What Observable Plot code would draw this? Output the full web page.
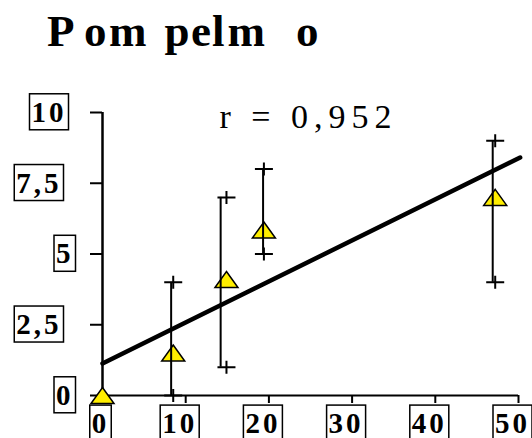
<!DOCTYPE html>
<html><head><meta charset="utf-8">
<script src="https://cdn.jsdelivr.net/npm/d3@7"></script>
<script src="https://cdn.jsdelivr.net/npm/@observablehq/plot@0.6"></script>
<style>
body{margin:0;background:#fff;}
#wrap{position:relative;width:532px;height:438px;overflow:hidden;background:#fff;}
#title{position:absolute;left:0;top:9px;width:532px;height:50px;font:bold 45px/45px "Liberation Serif","Times New Roman",serif;white-space:nowrap;color:#000;}
#title span{position:absolute;top:0;}
#chart{position:absolute;left:0;top:70px;}
</style></head><body>
<div id="wrap"><div id="title"></div><div id="chart"></div></div>
<script>
const titleText = "Pompelmo";
const xTicks = [0, 10, 20, 30, 40, 50];
const xTickLabels = ["0", "10", "20", "30", "40", "50"];
const yTicks = [0, 2.5, 5, 7.5, 10];
const yTickLabels = ["0", "2,5", "5", "7,5", "10"];
const xVals = [0, 8.5, 14.9, 19.4, 47.2];
const yVals = [0, 1.5, 4.1, 5.85, 7.0];
const errX = [null, 8.25, 14.2, 19.3, 46.9];
const yLow = [null, 0, 1.0, 5.0, 4.0];
const yHigh = [null, 4.0, 7.0, 8.0, 9.0];
const fitX = [0, 50.2];
const fitY = [1.13, 8.41];
const rLabel = "r = 0,952";
const rPos = [14.05, 9.85];

// title letters placed with the irregular spacing of the reference
const titleLeft = [47, 84, 109, 164.5, 191, 212, 227.5, 296];
const titleEl = document.getElementById("title");
[...titleText].forEach((ch, i) => {
  const s = document.createElement("span");
  s.textContent = ch;
  s.style.left = titleLeft[i] + "px";
  titleEl.appendChild(s);
});

const pts = xVals.map((x, i) => ({x, y: yVals[i], ex: errX[i], lo: yLow[i], hi: yHigh[i]}));
const fit = fitX.map((x, i) => ({x, y: fitY[i]}));
const ann = [{x: rPos[0], y: rPos[1], t: rLabel}];

const tri = {draw(ctx) { ctx.moveTo(0, -8); ctx.lineTo(11.5, 8); ctx.lineTo(-11.5, 8); ctx.closePath(); }};
const plus = {draw(ctx) { ctx.moveTo(-9, 0); ctx.lineTo(9, 0); ctx.moveTo(0, -6.5); ctx.lineTo(0, 6.5); }};
const serif = '"Liberation Serif","Times New Roman",serif';

const plot = Plot.plot({
  width: 532, height: 368,
  marginLeft: 102, marginRight: 14, marginTop: 42, marginBottom: 43,
  x: {domain: [0, 50], label: null},
  y: {domain: [0, 10], label: null},
  style: {background: "#fff", color: "#000"},
  marks: [
    Plot.axisY(yTicks, {label: null, tickSize: 12, tickPadding: 17, strokeWidth: 2, fontSize: 29, fontWeight: "bold", fontFamily: serif,
      tickFormat: d => yTickLabels[yTicks.indexOf(d)]}),
    Plot.axisX(xTicks, {label: null, tickSize: 8, tickPadding: 9, strokeWidth: 2, fontSize: 29, fontWeight: "bold", fontFamily: serif,
      tickFormat: d => xTickLabels[xTicks.indexOf(d)]}),
    Plot.ruleY([0], {strokeWidth: 2}),
    Plot.ruleX([0], {y1: 0, y2: 10, strokeWidth: 2.5}),
    Plot.dot(pts, {x: "x", y: "y", symbol: tri, fill: "#ffee00", stroke: "#000", strokeWidth: 1.5}),
    Plot.ruleX(pts, {x: "ex", y1: "lo", y2: "hi", strokeWidth: 2}),
    Plot.dot(pts, {x: "x", y: "lo", symbol: plus, fill: "none", stroke: "#000", strokeWidth: 2}),
    Plot.dot(pts, {x: "x", y: "hi", symbol: plus, fill: "none", stroke: "#000", strokeWidth: 2}),
    Plot.line(fit, {x: "x", y: "y", stroke: "#000", strokeWidth: 4.5}),
    Plot.text(ann, {x: "x", y: "y", text: "t", textAnchor: "start", lineAnchor: "middle", fontSize: 34, fontFamily: serif})
  ]
});
document.getElementById("chart").appendChild(plot);

const ns = "http://www.w3.org/2000/svg";
function boxLabels(sel, shiftFn) {
  plot.querySelectorAll(sel).forEach(t => {
    t.setAttribute("letter-spacing", "3");
    const b = t.getBBox();
    const g = document.createElementNS(ns, "g");
    g.setAttribute("transform", `translate(${shiftFn(t.textContent)},0)`);
    const r = document.createElementNS(ns, "rect");
    r.setAttribute("x", b.x - 2);
    r.setAttribute("y", b.y - 2);
    r.setAttribute("width", b.width + 4);
    r.setAttribute("height", b.height + 4);
    r.setAttribute("fill", "none");
    r.setAttribute("stroke", "#000");
    r.setAttribute("stroke-width", "1.5");
    if (t.getAttribute("transform")) r.setAttribute("transform", t.getAttribute("transform"));
    t.parentNode.insertBefore(g, t);
    g.appendChild(r);
    g.appendChild(t);
  });
}
boxLabels('g[aria-label="y-axis tick label"] text', s => ({1: 0, 2: -7, 3: -12})[s.length] || 0);
boxLabels('g[aria-label="x-axis tick label"] text', s => ({1: -2, 2: -6})[s.length] || 0);
plot.querySelectorAll('g[aria-label="text"] text').forEach(t => t.setAttribute("letter-spacing", "6"));
</script>
</body></html>
